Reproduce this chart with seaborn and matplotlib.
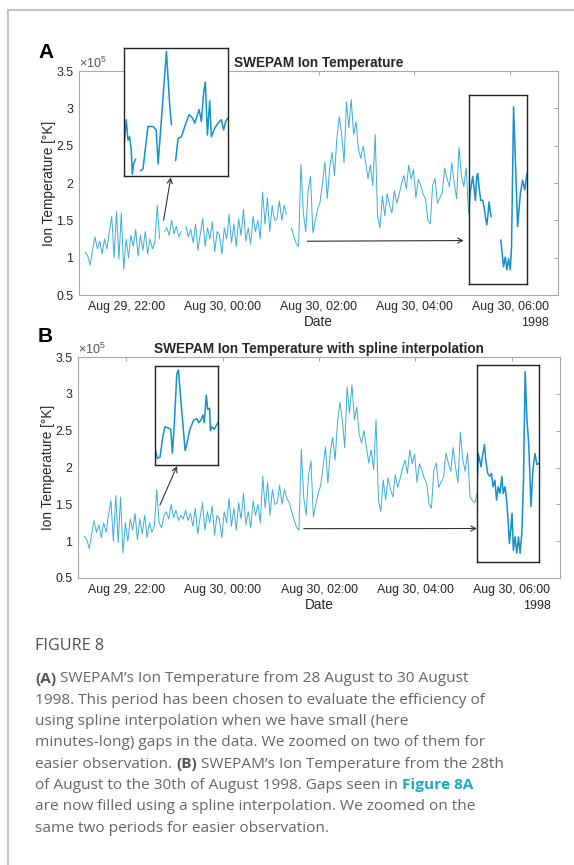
import numpy as np
import pandas as pd
import matplotlib
matplotlib.use("Agg")
import matplotlib.pyplot as plt
import matplotlib.dates as mdates
from matplotlib.lines import Line2D
from matplotlib.ticker import FuncFormatter, MultipleLocator
import seaborn as sns

# --- Data (ion temperature in units of 1e5 K) ---
START = "1998-08-29 21:08"
STEP = "3min"

temp_h1 = [1.07, 1.02, 0.90, 1.10, 1.28, 1.12, 1.22, 1.05, 1.25, 1.12, 1.35, 1.55, 1.00, 1.62, 0.98, 1.60, 0.84, 1.25, 1.00, 1.30]
temp_h2 = [1.15, 1.38, 1.02, 1.30, 1.10, 1.35, 1.05, 1.25, 1.12, 1.20, 1.70, 1.25, 1.18, 1.35, 1.40, 1.30, 1.50, 1.32, 1.42, 1.28]
temp_h3 = [1.35, 1.30, 1.42, 1.28, 1.38, 1.20, 1.45, 1.10, 1.32, 1.52, 1.15, 1.40, 1.25, 1.48, 1.08, 1.35, 1.30, 1.05, 1.40, 1.25]
temp_h4 = [1.58, 1.20, 1.45, 1.15, 1.52, 1.30, 1.65, 1.22, 1.40, 1.18, 1.55, 1.35, 1.50, 1.25, 1.88, 1.45, 1.80, 1.35, 1.70, 1.50]
temp_h5 = [1.52, 1.76, 1.50, 1.70, 1.58, 1.52, 1.40, 1.29, 1.19, 1.15, 2.25, 1.60, 1.35, 1.90, 2.09, 1.33, 1.50, 1.65, 1.75, 2.00]
temp_h6 = [2.28, 1.79, 2.20, 2.41, 2.10, 2.60, 2.89, 2.65, 2.27, 3.09, 2.74, 3.12, 2.65, 2.82, 2.45, 2.33, 2.50, 2.28, 2.06, 2.24]
temp_h7 = [1.97, 2.65, 1.55, 1.40, 1.83, 1.56, 1.86, 1.70, 1.60, 1.90, 1.73, 1.85, 1.99, 2.10, 1.92, 2.24, 2.05, 2.18, 1.80, 2.05]
temp_h8 = [1.97, 1.85, 1.79, 1.50, 1.45, 1.97, 2.06, 1.73, 1.80, 1.87, 2.20, 2.06, 1.95, 2.27, 2.00, 1.79, 2.48, 2.10, 1.95, 2.20]
temp_tail = [1.60, 1.55, 1.52, 1.65, 1.70]

# samples missing in the raw series (panel A), filled by the spline in panel B
gap_idx = [32, 41, 85]

# zoom windows: minutes from window start, temperature
zoomA1_min = [0.0, 1.1, 1.9, 2.7, 3.5, 4.0, 4.6, 5.6, 6.5, 7.9, 9.1, 11.5, 13.9, 15.5, 16.4, 20.4, 22.0, 22.8, 24.0,
              24.8, 26.0, 27.6, 29.2, 31.3, 32.9, 34.0, 35.1, 36.1, 37.2, 38.3, 39.1, 40.1, 41.2, 42.0, 43.6, 45.2,
              46.8, 47.9, 48.9, 50.0]
zoomA1_val = [1.17, 1.33, 1.21, 1.23, 1.15, 1.01, 1.07, 1.10, np.nan, 1.03, 1.04, 1.29, 1.29, 1.27, 1.07, 1.73, 1.41,
              1.30, np.nan, 1.09, 1.22, 1.23, 1.29, 1.36, 1.34, 1.31, 1.35, 1.39, 1.32, 1.49, 1.55, 1.24, 1.44, 1.23,
              1.28, 1.31, 1.33, 1.27, 1.32, 1.34]

zoomB1_min = [0.0, 1.9, 4.0, 6.1, 8.0, 10.6, 12.5, 13.8, 15.2, 17.3, 18.6, 20.5, 22.6, 23.9, 25.3, 27.4, 30.6, 33.3,
              34.6, 36.4, 38.0, 39.1, 40.7, 41.8, 43.4, 43.9, 45.2, 47.1, 48.7, 50.0]
zoomB1_val = [1.13, 1.05, 1.06, 1.21, 1.29, 1.28, 1.27, 1.09, 1.29, 1.69, 1.72, 1.49, 1.26, 1.11, 1.16, 1.26, 1.34,
              1.35, 1.32, 1.34, 1.38, 1.32, 1.53, 1.42, 1.43, 1.26, 1.29, 1.27, 1.30, 1.32]

zoomA2_min = [0.0, 1.0, 2.8, 3.8, 5.2, 6.6, 8.0, 9.0, 10.4, 12.1, 14.2, 15.6, 17.0, 18.4, 19.8, 20.8, 21.8, 22.9, 26.0,
              32.9, 34.3, 35.7, 37.5, 39.2, 40.9, 42.7, 44.0, 46.1, 48.2, 50.3, 53.1, 55.5, 57.6, 60.0]
zoomA2_val = [1.64, 1.86, 2.00, 2.09, 1.95, 1.77, 2.09, 2.13, 1.95, 1.77, 1.77, 1.68, 1.55, 1.44, 1.60, 1.75, 1.64,
              1.55, np.nan, 1.24, 1.06, 0.88, 1.01, 0.84, 0.99, 0.84, 1.15, 3.02, 2.22, 1.42, 1.86, 2.04, 1.91, 2.13]

zoomB2_min = [0.0, 1.3, 2.6, 3.9, 5.2, 7.2, 8.5, 10.4, 12.4, 14.0, 15.6, 17.3, 18.9, 20.5, 22.2, 24.1, 25.4, 27.1,
              28.7, 30.3, 31.3, 32.6, 33.9, 35.2, 36.8, 38.5, 40.1, 41.7, 43.4, 45.0, 46.6, 48.2, 50.2, 52.2, 54.1,
              56.1, 58.0, 60.0]
zoomB2_val = [1.74, 2.19, 2.10, 2.01, 2.15, 2.31, 2.10, 1.92, 1.88, 1.92, 1.74, 1.83, 1.56, 1.74, 1.65, 1.88, 1.65,
              1.74, 1.56, 1.24, 0.97, 1.15, 1.38, 0.88, 1.06, 0.84, 1.06, 0.84, 1.11, 1.83, 3.30, 2.69, 2.28, 1.47,
              1.97, 2.19, 2.04, 2.06]

tick_times = ["1998-08-29 22:00", "1998-08-30 00:00", "1998-08-30 02:00", "1998-08-30 04:00", "1998-08-30 06:00"]
x_limits = ["1998-08-29 21:00", "1998-08-30 07:00"]

caption_lines = [
    [("(A)", "bold"), (" SWEPAM\u2019s Ion Temperature from 28 August to 30 August", "normal")],
    [("1998. This period has been chosen to evaluate the efficiency of", "normal")],
    [("using spline interpolation when we have small (here", "normal")],
    [("minutes-long) gaps in the data. We zoomed on two of them for", "normal")],
    [("easier observation. ", "normal"), ("(B)", "bold"), (" SWEPAM\u2019s Ion Temperature from the 28th", "normal")],
    [("of August to the 30th of August 1998. Gaps seen in ", "normal"), ("Figure 8A", "link")],
    [("are now filled using a spline interpolation. We zoomed on the", "normal")],
    [("same two periods for easier observation.", "normal")],
]

# --- Style ---
sns.set_style("white")
plt.rcParams.update({
    "font.family": ["Liberation Sans", "DejaVu Sans"],
    "mathtext.fontset": "custom",
    "mathtext.rm": "Liberation Sans",
    "mathtext.default": "regular",
    "axes.edgecolor": "#a8a8a8",
    "axes.linewidth": 0.8,
    "xtick.color": "#a8a8a8",
    "ytick.color": "#a8a8a8",
    "xtick.labelcolor": "#262626",
    "ytick.labelcolor": "#262626",
    "text.color": "#262626",
})
LINE = "#3aaed8"
ZOOM_LINE = "#1590c8"
TICK_SIZE = 8.9
LABEL_SIZE = 9.8

W, H = 574, 865
fig = plt.figure(figsize=(W / 100, H / 100), dpi=100)


def px_box(x0, y0, x1, y1):
    return [x0 / W, 1 - y1 / H, (x1 - x0) / W, (y1 - y0) / H]


def segments(x, y):
    df = pd.DataFrame({"x": x, "y": y})
    df["seg"] = df["y"].isna().cumsum()
    return df.dropna()


temp_filled = temp_h1 + temp_h2 + temp_h3 + temp_h4 + temp_h5 + temp_h6 + temp_h7 + temp_h8 + temp_tail
times = pd.date_range(START, periods=len(temp_filled), freq=STEP)
temp_raw = np.array(temp_filled, dtype=float)
temp_raw[gap_idx] = np.nan


def main_panel(rect, values, title):
    ax = fig.add_axes(rect)
    sns.lineplot(data=segments(times, values), x="x", y="y", units="seg", estimator=None,
                 color=LINE, lw=0.7, ax=ax, legend=False)
    ax.set_xlim(pd.Timestamp(x_limits[0]), pd.Timestamp(x_limits[1]))
    ax.set_ylim(0.5, 3.5)
    ax.yaxis.set_major_locator(MultipleLocator(0.5))
    ax.yaxis.set_major_formatter(FuncFormatter(lambda v, p: f"{v:g}"))
    ax.set_xticks([pd.Timestamp(t) for t in tick_times])
    ax.xaxis.set_major_formatter(mdates.DateFormatter("%b %d, %H:%M"))
    ax.tick_params(direction="in", length=3, width=0.7, top=True, right=True, labelsize=TICK_SIZE, pad=4)
    ax.set_xlabel("Date", fontsize=LABEL_SIZE, labelpad=1.5)
    ax.set_ylabel("Ion Temperature [\u00b0K]", fontsize=LABEL_SIZE, labelpad=0)
    ax.set_title(title, fontsize=LABEL_SIZE, fontweight="bold", pad=3)
    ax.text(0.0, 1.0, r"$\times10^{5}$", transform=ax.transAxes, fontsize=9, color="#555555",
            ha="left", va="bottom")
    ax.text(0.98, -0.125, "1998", transform=ax.transAxes, fontsize=TICK_SIZE, ha="right", va="center")
    return ax


def zoom_panel(rect, minutes, values, ylim):
    axz = fig.add_axes(rect)
    axz.set_facecolor("white")
    sns.lineplot(data=segments(minutes, values), x="x", y="y", units="seg", estimator=None,
                 color=ZOOM_LINE, lw=1.1, ax=axz, legend=False)
    axz.set_xlim(min(minutes), max(minutes))
    axz.set_ylim(*ylim)
    axz.set_xticks([])
    axz.set_yticks([])
    axz.set_xlabel("")
    axz.set_ylabel("")
    for sp in axz.spines.values():
        sp.set_color("#222222")
        sp.set_linewidth(1.0)
    return axz


def arrow(ax, start, target_ax, end):
    ax.annotate("", xy=end, xycoords=target_ax.transAxes,
                xytext=(mdates.date2num(pd.Timestamp(start[0])), start[1]), textcoords="data",
                arrowprops=dict(arrowstyle="->", color="#333333", lw=0.8, shrinkA=0, shrinkB=0,
                                mutation_scale=9), annotation_clip=False)


# Panel A
axA = main_panel(px_box(79, 71, 558, 295), temp_raw, "SWEPAM Ion Temperature")
axA1 = zoom_panel(px_box(124, 48, 228, 176), zoomA1_min, zoomA1_val, (1.0, 1.75))
axA2 = zoom_panel(px_box(469, 95, 527, 284), zoomA2_min, zoomA2_val, (0.65, 3.18))
arrow(axA, ("1998-08-29 22:46", 1.50), axA1, (0.45, -0.01))
arrow(axA, ("1998-08-30 01:46", 1.22), axA2, (-0.09, 0.23))

# Panel B
axB = main_panel(px_box(78, 357, 560, 578), temp_filled, "SWEPAM Ion Temperature with spline interpolation")
axB1 = zoom_panel(px_box(155, 366, 218, 465), zoomB1_min, zoomB1_val, (1.0, 1.75))
axB2 = zoom_panel(px_box(477, 365, 539, 562), zoomB2_min, zoomB2_val, (0.72, 3.39))
arrow(axB, ("1998-08-29 22:42", 1.49), axB1, (0.35, -0.01))
arrow(axB, ("1998-08-30 01:41", 1.17), axB2, (0.0, 0.17))

fig.text(38 / W, 1 - 53 / H, "A", fontsize=15, fontweight="bold", color="black", va="center")
fig.text(38 / W, 1 - 336 / H, "B", fontsize=15, fontweight="bold", color="black", va="center")

# page frame
fig.add_artist(Line2D([8 / W, 8 / W], [0, 1 - 10 / H], color="#b8b8b8", lw=1.2))
fig.add_artist(Line2D([8 / W, 1], [1 - 10 / H, 1 - 10 / H], color="#b8b8b8", lw=1.2))

# caption
CAP_FONT = ["Open Sans", "DejaVu Sans"]
CAP_SIZE = 11.1
fig.text(35 / W, 1 - 646 / H, "FIGURE 8", fontsize=11.6, color="#505050", family=CAP_FONT, va="center")
renderer = fig.canvas.get_renderer()
styles = {"normal": ("normal", "#666666"), "bold": ("bold", "#555555"), "link": ("bold", "#18a9c4")}
for i, runs in enumerate(caption_lines):
    x = 35
    y = 679 + i * 21.3
    for s, kind in runs:
        weight, color = styles[kind]
        t = fig.text(x / W, 1 - y / H, s, fontsize=CAP_SIZE, fontweight=weight, color=color,
                     family=CAP_FONT, va="center")
        x += t.get_window_extent(renderer).width

fig.savefig("out.png", dpi=100)
